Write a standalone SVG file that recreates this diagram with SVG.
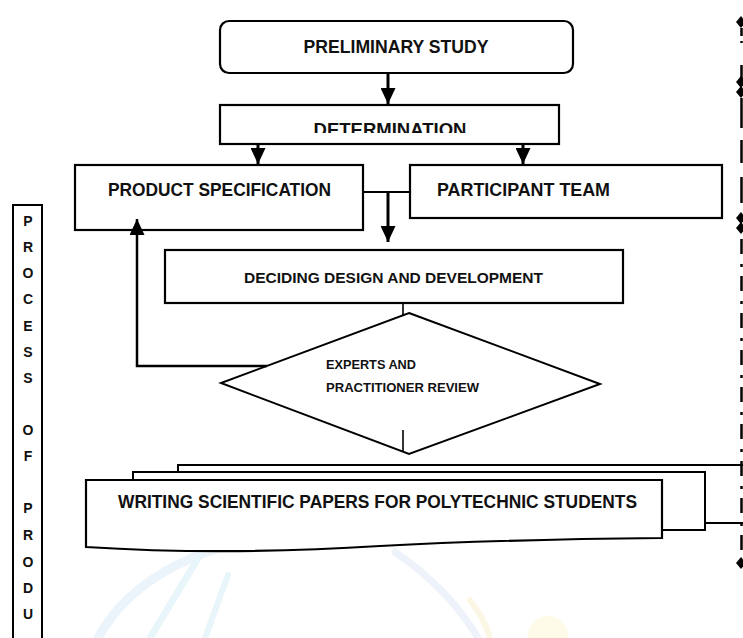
<svg xmlns="http://www.w3.org/2000/svg" width="743" height="638" viewBox="0 0 743 638">
<style>
.box{fill:#fff;stroke:#000;stroke-width:2.2}
.t{font-family:"Liberation Sans",Arial,sans-serif;font-weight:bold;fill:#111}
.c{fill:none;stroke:#000}
.wm{fill:none;stroke-linecap:round}
</style>
<defs>
<marker id="ah" markerUnits="userSpaceOnUse" markerWidth="16" markerHeight="15" refX="16" refY="7.5" orient="auto">
<path d="M0,0 L16,7.5 L0,15 Z" fill="#000"/>
</marker>
<clipPath id="detclip"><rect x="220" y="105" width="340" height="28"/></clipPath>
</defs>
<rect width="743" height="638" fill="#fff"/>
<g id="watermark" opacity="0.9">
<path class="wm" d="M98,638 Q140,560 270,535" stroke="#eaf3fb" stroke-width="9"/>
<path class="wm" d="M150,638 L200,555" stroke="#e6f6fb" stroke-width="7"/>
<path class="wm" d="M205,638 L228,575" stroke="#e6f6fb" stroke-width="6"/>
<path class="wm" d="M395,552 Q450,590 478,638" stroke="#edf2fb" stroke-width="7"/>
<path class="wm" d="M470,600 Q485,620 490,638" stroke="#fcf7e2" stroke-width="6"/>
<circle cx="548" cy="636" r="20" fill="#fdf9e6"/>
</g>
<g id="n-preliminary">
<rect class="box" x="220" y="21" width="353" height="52" rx="9"/>
<text class="t" x="396" y="53" font-size="18" text-anchor="middle" textLength="185" lengthAdjust="spacingAndGlyphs">PRELIMINARY STUDY</text>
</g>
<g id="n-determination">
<rect class="box" x="220" y="105" width="339" height="39"/>
<text class="t" x="390" y="136" font-size="18" text-anchor="middle" textLength="153" lengthAdjust="spacingAndGlyphs" clip-path="url(#detclip)">DETERMINATION</text>
</g>
<g id="n-product-spec">
<rect class="box" x="75" y="165" width="288" height="65"/>
<text class="t" x="219.5" y="196" font-size="18" text-anchor="middle" textLength="223" lengthAdjust="spacingAndGlyphs">PRODUCT SPECIFICATION</text>
</g>
<g id="n-participant">
<rect class="box" x="410" y="165" width="312" height="53"/>
<text class="t" x="437" y="196" font-size="18" textLength="173" lengthAdjust="spacingAndGlyphs">PARTICIPANT TEAM</text>
</g>
<g id="n-deciding">
<rect class="box" x="165" y="250" width="458" height="53"/>
<text class="t" x="244" y="283" font-size="15" textLength="299" lengthAdjust="spacingAndGlyphs">DECIDING DESIGN AND DEVELOPMENT</text>
</g>
<g id="n-review">
<polygon points="409,313 600,384 409,454 221,383" fill="none" stroke="#000" stroke-width="2"/>
<text class="t" x="326" y="369" font-size="12.5" textLength="90" lengthAdjust="spacingAndGlyphs">EXPERTS AND</text>
<text class="t" x="326" y="392" font-size="12.5" textLength="153" lengthAdjust="spacingAndGlyphs">PRACTITIONER REVIEW</text>
</g>
<g id="n-writing">
<path d="M178,472 L178,465 L743,465" fill="none" stroke="#000" stroke-width="2"/>
<path d="M705,523 L743,523" fill="none" stroke="#000" stroke-width="2"/>
<path d="M133,480 L133,472 L705,472 L705,530 L662,530" fill="#fff" stroke="#000" stroke-width="2"/>
<path d="M86,480 L662,480 L662,538 C560,539 470,541 380,546 C270,553 180,553 86,547 Z" fill="#fff" stroke="#000" stroke-width="2.2"/>
<text class="t" x="118" y="508" font-size="18" textLength="519" lengthAdjust="spacingAndGlyphs">WRITING SCIENTIFIC PAPERS FOR POLYTECHNIC STUDENTS</text>
</g>
<g id="n-process">
<rect x="13" y="205" width="29" height="450" fill="#fff" stroke="#000" stroke-width="2"/>
<g class="t" font-size="14" text-anchor="middle">
<text x="28" y="226">P</text>
<text x="28" y="252">R</text>
<text x="28" y="278">O</text>
<text x="28" y="304">C</text>
<text x="28" y="331">E</text>
<text x="28" y="357">S</text>
<text x="28" y="383">S</text>
<text x="28" y="435">O</text>
<text x="28" y="461">F</text>
<text x="28" y="513">P</text>
<text x="28" y="540">R</text>
<text x="28" y="567">O</text>
<text x="28" y="593">D</text>
<text x="28" y="619">U</text>
</g>
</g>
<g id="connectors">
<line class="c" x1="388" y1="73" x2="388" y2="104" stroke-width="3" marker-end="url(#ah)"/>
<line class="c" x1="258" y1="144" x2="258" y2="164" stroke-width="3" marker-end="url(#ah)"/>
<line class="c" x1="523" y1="144" x2="523" y2="164" stroke-width="3" marker-end="url(#ah)"/>
<line class="c" x1="364" y1="192" x2="409" y2="192" stroke-width="2"/>
<line class="c" x1="388" y1="192" x2="388" y2="242" stroke-width="3" marker-end="url(#ah)"/>
<line class="c" x1="403" y1="304" x2="403" y2="315" stroke-width="1.6"/>
<polyline class="c" points="267,366 137,366 137,219" stroke-width="2.5" marker-end="url(#ah)"/>
<line class="c" x1="403" y1="430" x2="403" y2="452" stroke-width="1.6"/>
</g>
<g id="edge-marks" fill="#000" stroke="#000">
<polygon points="736,22 741,16 746,22 741,28" stroke="none"/>
<polygon points="736,82 741,76 746,82 741,88" stroke="none"/>
<polygon points="736,92 741,86 746,92 741,98" stroke="none"/>
<polygon points="736,218 741,212 746,218 741,224" stroke="none"/>
<polygon points="736,228 741,222 746,228 741,234" stroke="none"/>
<polygon points="736,563 741,557 746,563 741,569" stroke="none"/>
<line x1="741.5" y1="28" x2="741.5" y2="36" stroke-width="2.5"/>
<line x1="741.5" y1="41" x2="741.5" y2="43" stroke-width="2.5"/>
<line x1="741.5" y1="65" x2="741.5" y2="80" stroke-width="2.5"/>
<line x1="741.5" y1="98" x2="741.5" y2="128" stroke-width="2.5"/>
<line x1="741.5" y1="140" x2="741.5" y2="163" stroke-width="2.5"/>
<line x1="741.5" y1="177" x2="741.5" y2="203" stroke-width="2.5"/>
<line x1="741.5" y1="239" x2="741.5" y2="552" stroke-width="2.5" stroke-dasharray="15 10 3 9"/>
</g>
</svg>
